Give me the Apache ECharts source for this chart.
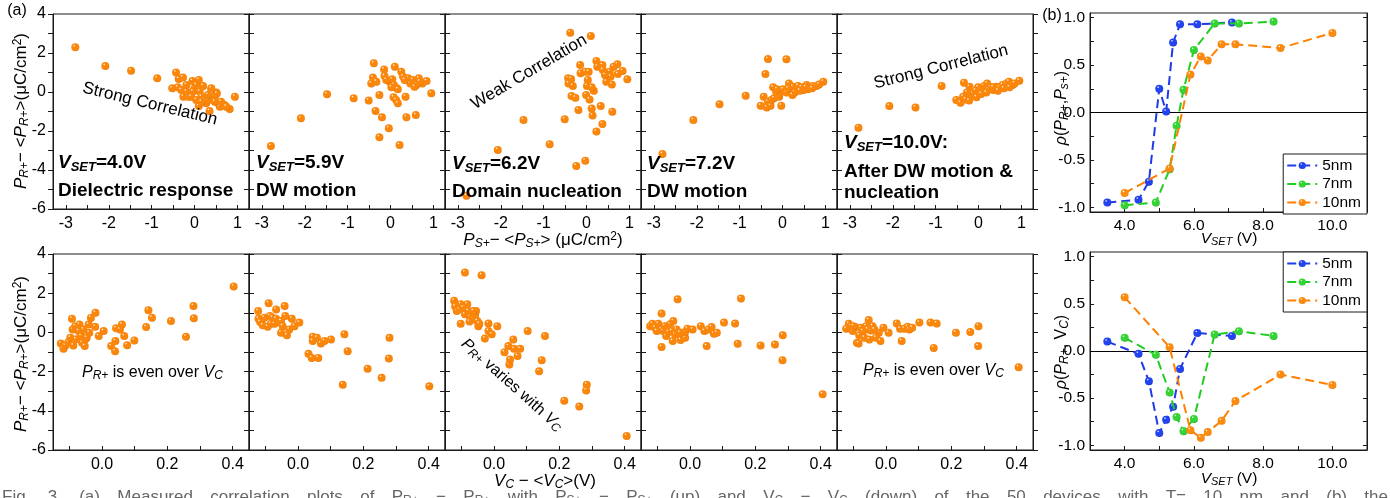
<!DOCTYPE html>
<html>
<head>
<meta charset="utf-8">
<script src="https://cdn.jsdelivr.net/npm/echarts@6/dist/echarts.min.js"></script>
<style>
  html, body { margin: 0; padding: 0; background: #fff; }
  #chart { width: 1390px; height: 498px; }
</style>
</head>
<body>
<div id="chart"></div>
<script>
// ---------- (a) device-to-device scatter, one array per set voltage ----------
// P_R+ deviation vs P_S+ deviation (uC/cm^2)
const scatterPs40 = [[-2.78,2.29],[-2.08,1.33],[-1.48,1.09],[-0.87,0.70],[-0.43,1.00],[-0.37,0.67],[-0.27,0.75],[-0.52,0.19],[-0.39,0.24],[-0.31,0.10],[-0.26,-0.24],[-0.19,0.36],[-0.05,0.56],[-0.15,-0.24],[0.00,0.19],[0.04,0.36],[0.10,0.62],[0.12,0.02],[0.16,-0.24],[0.20,0.31],[0.22,-0.41],[0.10,-0.72],[0.27,-0.58],[0.31,-0.41],[0.39,0.10],[0.41,-0.10],[0.35,-0.97],[0.43,-0.41],[0.47,-0.24],[0.51,-0.03],[0.55,-0.58],[0.59,-0.75],[0.70,-0.67],[0.82,-0.87],[0.94,-0.24],[0.52,-0.08],[0.39,0.19],[-0.04,0.02],[-0.19,0.02],[-0.08,-0.24],[0.04,-0.41],[0.16,-0.50],[0.31,-0.15],[0.47,-0.50],[0.62,-0.50],[0.74,-0.75]];
const scatterPs59 = [[-2.79,-2.77],[-2.09,-1.35],[-1.48,-0.12],[-0.86,-0.32],[-0.51,-0.44],[-0.39,1.47],[-0.45,0.44],[-0.41,0.74],[-0.33,0.53],[-0.35,-0.97],[-0.26,-0.15],[-0.20,-1.30],[-0.26,-2.32],[-0.15,1.16],[-0.14,0.82],[-0.04,-1.86],[-0.01,0.50],[0.04,0.65],[0.08,0.36],[0.10,1.30],[0.07,-0.27],[0.15,0.19],[0.13,-0.41],[0.17,-0.58],[0.21,-2.72],[0.25,1.04],[0.29,0.79],[0.41,0.70],[0.35,-0.24],[0.37,-1.30],[0.46,0.44],[0.52,0.62],[0.60,0.36],[0.66,0.70],[0.59,-1.18],[0.74,0.44],[0.84,0.56],[0.95,-0.07],[0.17,0.14],[0.33,0.62],[0.56,0.27],[-0.10,0.62],[0.02,0.24],[0.68,0.53]];
const scatterPs62 = [[-2.80,-5.32],[-2.07,-2.97],[-1.47,-1.44],[-0.86,-2.68],[-0.51,-1.40],[-0.38,3.04],[0.10,2.87],[-0.43,0.70],[-0.36,0.67],[-0.42,0.44],[-0.32,0.31],[-0.35,-0.21],[-0.26,-0.29],[-0.19,-0.92],[-0.24,-3.79],[-0.03,-3.52],[-0.15,1.38],[-0.14,0.96],[-0.03,1.04],[0.05,1.04],[0.03,0.62],[0.01,0.31],[-0.01,-0.15],[0.07,-0.38],[0.12,-0.84],[0.14,-1.21],[0.17,0.07],[0.12,0.24],[0.23,-2.03],[0.23,1.59],[0.25,1.30],[0.33,-0.72],[0.37,-1.64],[0.37,1.38],[0.38,1.13],[0.46,0.53],[0.50,0.87],[0.54,1.04],[0.59,0.39],[0.60,-1.01],[0.63,1.30],[0.72,1.42],[0.73,0.92],[0.84,1.08],[0.95,0.65],[0.56,0.79],[0.43,0.87]];
const scatterPs72 = [[-2.80,-3.18],[-2.08,-1.44],[-1.47,-0.63],[-0.86,-0.19],[-0.34,1.69],[0.09,1.68],[-0.40,0.92],[-0.51,-0.70],[-0.44,-0.24],[-0.37,-0.79],[-0.34,-0.50],[-0.28,-0.70],[-0.26,-0.41],[-0.22,0.24],[-0.15,0.02],[-0.08,-0.24],[-0.08,-0.10],[-0.03,-0.70],[0.01,0.14],[0.09,-0.03],[0.15,0.44],[0.19,0.10],[0.24,0.27],[0.28,-0.03],[0.36,0.31],[0.44,0.24],[0.49,0.10],[0.56,0.36],[0.63,0.24],[0.71,0.31],[0.79,0.31],[0.95,0.53],[0.85,0.39],[0.59,0.14],[0.40,0.07],[0.23,-0.15],[0.13,0.19],[-0.13,0.14],[-0.20,-0.32],[0.54,0.24],[0.69,0.19]];
const scatterPs100 = [[-2.80,-1.83],[-2.08,-0.72],[-1.47,-0.79],[-0.86,0.31],[-0.34,0.48],[-0.52,-0.41],[-0.42,-0.55],[-0.36,-0.24],[-0.30,-0.38],[-0.21,0.27],[-0.18,-0.24],[-0.13,-0.07],[-0.01,0.24],[0.01,-0.03],[0.10,0.10],[0.13,0.31],[0.20,0.44],[0.22,0.14],[0.28,0.24],[0.34,0.10],[0.41,0.27],[0.49,0.24],[0.56,0.36],[0.59,0.19],[0.65,0.44],[0.71,0.53],[0.79,0.36],[0.84,0.44],[0.95,0.58],[-0.27,-0.03],[-0.07,0.07],[0.06,-0.10],[0.18,-0.03],[0.34,0.24],[0.45,0.07],[0.72,0.24],[-0.05,-0.27],[-0.22,-0.44]];

// P_R+ deviation vs V_C deviation (V)
const scatterVc40 = [[-0.126,-0.56],[-0.118,-0.84],[-0.112,-0.67],[-0.103,-0.50],[-0.097,-0.27],[-0.092,0.70],[-0.090,0.15],[-0.088,-0.67],[-0.082,0.32],[-0.080,-0.35],[-0.072,0.07],[-0.069,0.40],[-0.064,-0.19],[-0.061,-0.53],[-0.057,0.15],[-0.051,-0.35],[-0.047,-0.27],[-0.041,0.40],[-0.034,0.74],[-0.020,1.00],[-0.021,0.29],[-0.010,-0.19],[0.005,0.07],[0.028,-0.70],[0.043,0.21],[0.041,-0.44],[0.040,-0.96],[0.055,0.15],[0.061,0.40],[0.068,-0.19],[0.077,-0.65],[0.099,-0.41],[0.135,0.27],[0.142,1.13],[0.153,0.75],[0.211,0.58],[0.257,-0.22],[0.280,1.35],[0.281,0.72],[0.403,2.34],[-0.053,-0.70],[-0.039,-0.02]];
const scatterVc59 = [[-0.122,1.09],[-0.121,0.70],[-0.116,0.53],[-0.108,0.36],[-0.103,0.75],[-0.090,1.49],[-0.086,0.84],[-0.083,0.44],[-0.078,0.75],[-0.072,0.44],[-0.067,0.70],[-0.059,0.53],[-0.067,1.17],[-0.052,0.58],[-0.047,0.32],[-0.041,1.35],[-0.052,-0.02],[-0.034,-0.15],[-0.027,0.15],[-0.019,0.70],[-0.011,0.32],[0.004,0.50],[0.032,-1.09],[0.042,-1.30],[0.045,-0.22],[0.045,-0.44],[0.058,-0.27],[0.062,-1.30],[0.070,-0.56],[0.081,-0.44],[0.101,-0.36],[0.137,-2.67],[0.142,-0.09],[0.152,-0.96],[0.213,-1.85],[0.256,-2.32],[0.280,-0.27],[0.278,-1.33],[0.402,-2.75],[-0.093,0.29],[-0.039,0.84]];
const scatterVc62 = [[-0.089,3.06],[-0.038,2.92],[-0.122,1.61],[-0.119,1.32],[-0.114,1.09],[-0.106,1.18],[-0.102,1.44],[-0.094,1.26],[-0.089,0.92],[-0.082,1.44],[-0.079,1.09],[-0.073,0.80],[-0.068,1.01],[-0.063,0.67],[-0.058,0.87],[-0.055,1.09],[-0.051,0.58],[-0.048,0.32],[-0.045,0.44],[-0.102,0.44],[-0.075,0.55],[-0.017,0.46],[-0.017,0.07],[-0.028,-0.31],[-0.007,-0.10],[0.010,0.32],[0.032,-1.01],[0.044,-0.70],[0.047,-1.64],[0.049,-1.38],[0.059,-0.36],[0.061,-0.84],[0.072,-1.21],[0.080,-0.84],[0.103,0.07],[0.138,-1.98],[0.146,-1.42],[0.156,-0.19],[0.215,-3.49],[0.261,-3.78],[0.284,-2.67],[0.282,-2.96],[0.406,-5.28],[-0.063,1.09]];
const scatterVc72 = [[-0.122,0.32],[-0.115,0.44],[-0.107,0.24],[-0.097,0.44],[-0.087,0.96],[-0.087,-0.74],[-0.082,0.07],[-0.077,0.32],[-0.073,-0.19],[-0.066,0.02],[-0.061,0.41],[-0.056,0.07],[-0.051,0.58],[-0.053,-0.44],[-0.046,-0.10],[-0.038,1.69],[-0.041,0.15],[-0.029,-0.39],[-0.015,-0.27],[-0.015,0.02],[-0.008,0.19],[0.008,0.15],[0.033,0.32],[0.044,0.07],[0.051,-0.70],[0.056,0.15],[0.066,0.27],[0.073,-0.07],[0.082,-0.02],[0.104,0.50],[0.138,0.46],[0.146,-0.58],[0.156,1.73],[0.216,-0.67],[0.260,-0.62],[0.284,-0.15],[0.283,-1.42],[0.406,-3.15],[-0.102,0.07],[-0.031,-0.02]];
const scatterVc100 = [[-0.122,0.19],[-0.114,0.44],[-0.107,0.32],[-0.102,0.07],[-0.094,0.27],[-0.089,-0.53],[-0.084,-0.56],[-0.082,-0.15],[-0.077,0.24],[-0.071,0.07],[-0.066,-0.27],[-0.061,0.32],[-0.056,0.15],[-0.053,0.63],[-0.051,-0.36],[-0.046,0.10],[-0.041,0.32],[-0.031,-0.27],[-0.022,-0.02],[-0.017,-0.44],[-0.008,0.24],[0.008,-0.02],[0.033,0.46],[0.043,0.19],[0.048,-0.44],[0.056,0.19],[0.066,0.29],[0.071,0.15],[0.080,0.24],[0.102,0.50],[0.136,0.50],[0.146,-0.79],[0.155,0.46],[0.214,-0.02],[0.258,0.02],[0.283,0.32],[0.282,-0.70],[0.406,-1.78],[-0.100,0.32],[-0.036,0.15]];

const setVoltageLabels = ['4.0V', '5.9V', '6.2V', '7.2V', '10.0V:'];
const regimeLabels = [['Dielectric response'], ['DW motion'], ['Domain nucleation'], ['DW motion'], ['After DW motion &', 'nucleation']];

// tick labels
const psTickLabels = [-3, -2, -1, 0, 1];
const vcTickLabels = [0, 0.2, 0.4];
const vSetTickLabels = [4, 6, 8, 10];
const rhoTickLabels = [-1, -0.5, 0, 0.5, 1];

// ---------- (b) correlation coefficient vs V_SET for three thicknesses ----------
const thicknessNames = ['5nm', '7nm', '10nm'];
const vSet5nm  = [3.5, 4.4, 4.7, 5.0, 5.2, 5.4, 5.6, 6.1, 7.1];
const vSet7nm  = [4.0, 4.9, 5.3, 5.5, 5.7, 6.0, 6.6, 7.3, 8.3];
const vSet10nm = [4.0, 5.3, 5.9, 6.2, 6.4, 6.8, 7.2, 8.5, 10.0];
const rhoPs5nm  = [-0.95, -0.92, -0.73, 0.25, 0.01, 0.74, 0.93, 0.93, 0.95];
const rhoPs7nm  = [-0.98, -0.95, -0.60, -0.14, 0.24, 0.66, 0.94, 0.94, 0.96];
const rhoPs10nm = [-0.85, -0.59, 0.40, 0.59, 0.55, 0.72, 0.72, 0.68, 0.84];
const rhoVc5nm  = [0.10, -0.03, -0.32, -0.87, -0.73, -0.59, -0.19, 0.19, 0.16];
const rhoVc7nm  = [0.14, -0.04, -0.44, -0.70, -0.85, -0.72, 0.175, 0.21, 0.16];
const rhoVc10nm = [0.57, 0.04, -0.84, -0.92, -0.86, -0.74, -0.53, -0.25, -0.36];

// caption line below the figure
const captionWords = ['Fig.', '3.', '(a)', 'Measured', 'correlation', 'plots', 'of', 'P_R+', '\u2212', 'P_R+', 'with', 'P_S+', '\u2212', 'P_S+', '(up)', 'and', 'V_C', '\u2212', 'V_C', '(down)', 'of', 'the', '50', 'devices', 'with', 'T=', '10', 'nm', 'and', '(b)', 'the'];

// ---------- styling helpers ----------
const FONT = '"Liberation Sans", Arial, Helvetica, sans-serif';
const AXIS_COLOR = '#1a1a1a';

function ball(base, dark) {
  return {
    type: 'radial', x: 0.36, y: 0.3, r: 0.78,
    colorStops: [
      { offset: 0, color: '#ffffff' },
      { offset: 0.2, color: base },
      { offset: 0.8, color: base },
      { offset: 1, color: dark }
    ]
  };
}
const orangeBall = ball('#fa870c', '#d86c00');
const seriesColors = {
  '5nm':  { line: '#1f3ae6', ball: ball('#2244f0', '#0d1ca0') },
  '7nm':  { line: '#22cc22', ball: ball('#33d433', '#169016') },
  '10nm': { line: '#ff8000', ball: ball('#fb8a10', '#d86e00') }
};

function richSet(size, sub, bold) {
  const w = bold ? 'bold' : 'normal';
  const base = { fontFamily: FONT, fontSize: size, fontWeight: w, fill: '#000', lineHeight: size + 2 };
  return {
    n: Object.assign({}, base),
    i: Object.assign({}, base, { fontStyle: 'italic' }),
    s: { fontFamily: FONT, fontSize: sub, fontWeight: w, fontStyle: 'italic', fill: '#000', verticalAlign: 'bottom', lineHeight: sub },
    p: { fontFamily: FONT, fontSize: sub, fontWeight: w, fill: '#000', verticalAlign: 'top', lineHeight: sub }
  };
}

function label(x, y, text, rich, opts) {
  opts = opts || {};
  return {
    type: 'text', x: x, y: y, rotation: opts.rotation || 0, z: 100, silent: true,
    style: {
      text: text, rich: rich, fontFamily: FONT, fontSize: opts.size || 16, fill: opts.fill || '#000',
      fontWeight: opts.weight || 'normal',
      align: opts.align || 'center', verticalAlign: opts.vAlign || 'middle'
    }
  };
}

// ---------- layout ----------
const PANEL_LEFT = 53, PANEL_W = 196;
const rows = [{ top: 14, height: 195 }, { top: 254, height: 196 }];
const grid = [], xAxis = [], yAxis = [], series = [];

function addPanelAxes(gi, xCfg, yCfg) {
  xAxis.push(Object.assign({
    gridIndex: gi, type: 'value', position: 'bottom',
    axisLine: { show: true, onZero: false, lineStyle: { color: AXIS_COLOR, width: 1 } },
    splitLine: { show: false }
  }, xCfg));
  const yBase = {
    gridIndex: gi, type: 'value', splitLine: { show: false },
    axisLine: { show: true, onZero: false, lineStyle: { color: AXIS_COLOR, width: 1 } }
  };
  const left = yAxis.length;
  yAxis.push(Object.assign({}, yBase, yCfg.left, { position: 'left' }));
  yAxis.push(Object.assign({}, yBase, yCfg.right, { position: 'right' }));
  return { x: xAxis.length - 1, y: left };
}

const topSets = [scatterPs40, scatterPs59, scatterPs62, scatterPs72, scatterPs100];
const bottomSets = [scatterVc40, scatterVc59, scatterVc62, scatterVc72, scatterVc100];

function panelY(showLabels) {
  const common = { min: -6, max: 4, interval: 1 };
  return {
    left: Object.assign({}, common, {
      axisTick: { show: true, inside: false, length: 5, lineStyle: { color: AXIS_COLOR } },
      axisLabel: {
        show: showLabels, margin: 7, color: '#000', fontFamily: FONT, fontSize: 16,
        formatter: v => (v % 2 === 0 ? String(v) : '')
      }
    }),
    right: Object.assign({}, common, {
      axisTick: { show: true, inside: false, length: 5, lineStyle: { color: AXIS_COLOR } },
      axisLabel: { show: false }
    })
  };
}

[0, 1].forEach(r => {
  for (let k = 0; k < 5; k++) {
    const gi = grid.length;
    grid.push({
      left: PANEL_LEFT + k * PANEL_W, width: PANEL_W, top: rows[r].top, height: rows[r].height,
      show: true, borderColor: AXIS_COLOR, borderWidth: 1, backgroundColor: 'transparent'
    });
    const xCfg = r === 0 ? {
      min: -3.3, max: 1.27,
      axisTick: { show: true, inside: true, length: 4, customValues: [-3, -2.5, -2, -1.5, -1, -0.5, 0, 0.5, 1], lineStyle: { color: AXIS_COLOR } },
      axisLabel: { customValues: psTickLabels, margin: 7, color: '#000', fontFamily: FONT, fontSize: 16 }
    } : {
      min: -0.15, max: 0.45,
      axisTick: { show: true, inside: true, length: 4, customValues: [-0.1, 0, 0.1, 0.2, 0.3, 0.4], lineStyle: { color: AXIS_COLOR } },
      axisLabel: { customValues: vcTickLabels, margin: 7, color: '#000', fontFamily: FONT, fontSize: 16, formatter: v => v.toFixed(1) }
    };
    const ax = addPanelAxes(gi, xCfg, panelY(k === 0));
    series.push({
      type: 'scatter', xAxisIndex: ax.x, yAxisIndex: ax.y,
      data: (r === 0 ? topSets : bottomSets)[k],
      symbolSize: 8, silent: true, z: 5,
      itemStyle: { color: orangeBall, opacity: 1 }
    });
  }
});

// (b) panels
const B_LEFT = 1090, B_RIGHT = 23;
const bRows = [{ top: 13, height: 199 }, { top: 252, height: 198 }];
const bData = [
  { '5nm': [vSet5nm, rhoPs5nm], '7nm': [vSet7nm, rhoPs7nm], '10nm': [vSet10nm, rhoPs10nm] },
  { '5nm': [vSet5nm, rhoVc5nm], '7nm': [vSet7nm, rhoVc7nm], '10nm': [vSet10nm, rhoVc10nm] }
];
bRows.forEach((row, bi) => {
  const gi = grid.length;
  grid.push({
    left: B_LEFT, right: B_RIGHT, top: row.top, height: row.height,
    show: true, borderColor: AXIS_COLOR, borderWidth: 1, backgroundColor: 'transparent'
  });
  const tick = { show: true, inside: true, length: 4, lineStyle: { color: AXIS_COLOR } };
  const yCommon = { min: -1.05, max: 1.05 };
  const yTicks = Object.assign({}, tick, { customValues: [-1, -0.75, -0.5, -0.25, 0, 0.25, 0.5, 0.75, 1] });
  const ax = addPanelAxes(gi, {
    min: 3, max: 11, interval: 1,
    axisTick: tick,
    axisLabel: { customValues: vSetTickLabels, margin: 6, color: '#000', fontFamily: FONT, fontSize: 15.5, formatter: v => v.toFixed(1) }
  }, {
    left: Object.assign({}, yCommon, {
      axisTick: yTicks,
      axisLabel: { customValues: rhoTickLabels, margin: 5, color: '#000', fontFamily: FONT, fontSize: 15.5, formatter: v => v.toFixed(1) }
    }),
    right: Object.assign({}, yCommon, { axisTick: yTicks, axisLabel: { show: false } })
  });
  thicknessNames.forEach((name, si) => {
    const pair = bData[bi][name];
    const s = {
      name: name, type: 'line', xAxisIndex: ax.x, yAxisIndex: ax.y,
      data: pair[0].map((v, i) => [v, pair[1][i]]),
      symbol: 'circle', symbolSize: 8, showSymbol: true, silent: true, z: 5 + si,
      lineStyle: { color: seriesColors[name].line, width: 2, type: [9, 5] },
      itemStyle: { color: seriesColors[name].ball }
    };
    if (si === 0) {
      s.markLine = {
        silent: true, symbol: ['none', 'none'], label: { show: false },
        lineStyle: { color: '#000', width: 1, type: 'solid' },
        data: [{ yAxis: 0 }], z: 1
      };
    }
    series.push(s);
  });
});

const legendBase = {
  orient: 'vertical', right: B_RIGHT, data: thicknessNames,
  itemWidth: 30, itemHeight: 9, itemGap: 1.5, padding: [3, 6, 3, 3],
  borderColor: AXIS_COLOR, borderWidth: 1, backgroundColor: '#fff',
  textStyle: { fontFamily: FONT, fontSize: 15.5, color: '#000', lineHeight: 17 },
  selectedMode: false
};
const legend = [
  Object.assign({}, legendBase, { top: 154 }),
  Object.assign({}, legendBase, { top: 252 })
];

// ---------- text elements ----------
const g = [];
const r17 = richSet(17, 12);
const r16 = richSet(16, 12);
const r15 = richSet(15.5, 11);
const rBold = richSet(19, 13, true);

g.push(label(17, 11, '(a)', null, { size: 16 }));
g.push(label(1052, 16, '(b)', null, { size: 16 }));

const yTitle = '{i|P}{s|R+}{n|\u2212 <}{i|P}{s|R+}{n|>(\u03bcC/cm}{p|2}{n|)}';
g.push(label(21, 111, yTitle, r17, { rotation: Math.PI / 2 }));
g.push(label(21, 354, yTitle, r17, { rotation: Math.PI / 2 }));
g.push(label(543, 240, '{i|P}{s|S+}{n|\u2212 <}{i|P}{s|S+}{n|> (\u03bcC/cm}{p|2}{n|)}', r17));
g.push(label(545, 481, '{i|V}{s|C}{n| \u2212 <}{i|V}{s|C}{n|>(V)}', r17));

g.push(label(1062, 108, '{i|\u03c1}{n|(}{i|P}{s|R+}{n|,}{i|P}{s|s+}{n|)}', r16, { rotation: Math.PI / 2 }));
g.push(label(1062, 352, '{i|\u03c1}{n|(}{i|P}{s|R+}{n|, V}{s|C}{n|)}', r16, { rotation: Math.PI / 2 }));
g.push(label(1229, 239, '{i|V}{s|SET}{n| (V)}', r15));
g.push(label(1229, 479, '{i|V}{s|SET}{n| (V)}', r15));

// panel annotations
const annoX = [58, 256, 452, 647, 844];
const annoY = [[163, 191], [163, 191], [164, 192], [164, 192], [143, 172, 193]];
for (let k = 0; k < 5; k++) {
  g.push(label(annoX[k], annoY[k][0], '{i|V}{s|SET}{n|=' + setVoltageLabels[k] + '}', rBold, { align: 'left' }));
  regimeLabels[k].forEach((line, j) => {
    g.push(label(annoX[k], annoY[k][j + 1], '{n|' + line + '}', rBold, { align: 'left' }));
  });
}
g.push(label(150, 104, 'Strong Correlation', null, { size: 17, rotation: -13.6 * Math.PI / 180 }));
g.push(label(529, 72, 'Weak Correlation', null, { size: 17, rotation: 30.6 * Math.PI / 180 }));
g.push(label(941, 67, 'Strong Correlation', null, { size: 17, rotation: 14.3 * Math.PI / 180 }));
g.push(label(82, 373, '{i|P}{s|R+}{n| is even over }{i|V}{s|C}', r16, { align: 'left' }));
g.push(label(863, 371, '{i|P}{s|R+}{n| is even over }{i|V}{s|C}', r16, { align: 'left' }));
g.push(label(512, 385, '{i|P}{s|R+}{n| varies with }{i|V}{s|C}', r16, { rotation: -41.8 * Math.PI / 180 }));

// justified caption line
(function () {
  const ctx = document.createElement('canvas').getContext('2d');
  const mainPx = 17, subPx = 12;
  const parts = captionWords.map(w => {
    const idx = w.indexOf('_');
    return idx > 0 ? [w.slice(0, idx), w.slice(idx + 1)] : [w, ''];
  });
  const widths = parts.map(p => {
    ctx.font = mainPx + 'px "Liberation Sans"';
    let w = ctx.measureText(p[0]).width;
    if (p[1]) { ctx.font = subPx + 'px "Liberation Sans"'; w += ctx.measureText(p[1]).width; }
    return w;
  });
  const total = widths.reduce((a, b) => a + b, 0);
  const x0 = 2, x1 = 1388;
  const gap = (x1 - x0 - total) / (parts.length - 1);
  const cRich = {
    n: { fontFamily: FONT, fontSize: mainPx, fill: '#666', lineHeight: 19 },
    s: { fontFamily: FONT, fontSize: subPx, fill: '#666', verticalAlign: 'bottom', lineHeight: 12 }
  };
  let x = x0;
  parts.forEach((p, i) => {
    const txt = '{n|' + p[0] + '}' + (p[1] ? '{s|' + p[1] + '}' : '');
    g.push(label(x, 488, txt, cRich, { align: 'left', vAlign: 'top', fill: '#666' }));
    x += widths[i] + gap;
  });
})();

const chart = echarts.init(document.getElementById('chart'), null, { renderer: 'canvas' });
chart.setOption({
  animation: false,
  backgroundColor: '#fff',
  textStyle: { fontFamily: FONT },
  grid: grid, xAxis: xAxis, yAxis: yAxis, series: series,
  legend: legend,
  graphic: { elements: g }
});
</script>
</body>
</html>
